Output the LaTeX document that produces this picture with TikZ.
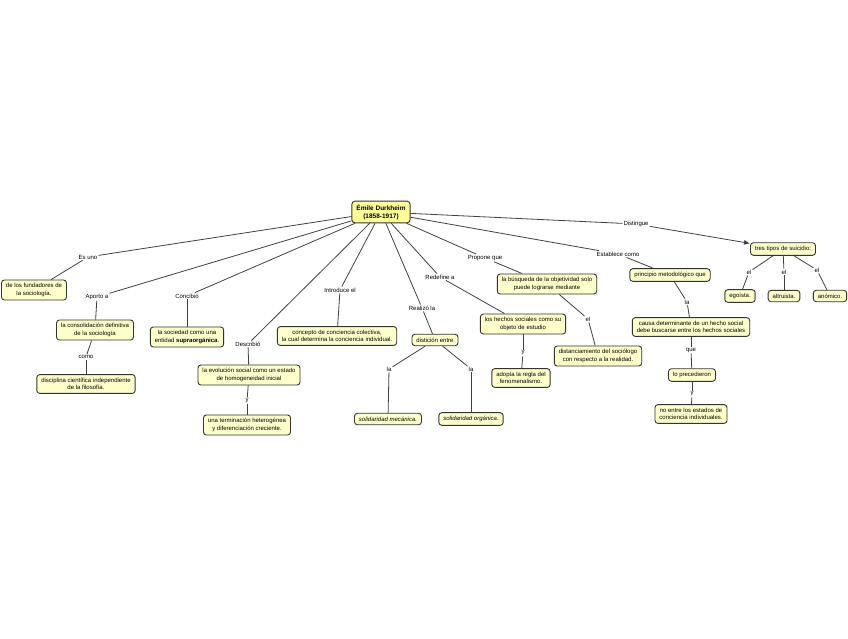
\documentclass[tikz,border=0pt]{standalone}
\usepackage{fontspec}
\setmainfont{Liberation Sans}
\usetikzlibrary{arrows.meta}
\definecolor{cptfill}{HTML}{FFFFCC}
\definecolor{rootfill}{HTML}{FFFF99}
\tikzset{
  cpt/.style  = {rectangle, rounded corners=3pt, draw=black!80, line width=0.9pt, fill=cptfill,
                 align=center, font=\fontsize{6}{7.4}\selectfont, inner xsep=4.5pt, inner ysep=3.5pt},
  cptr/.style = {cpt, fill=rootfill, font=\fontsize{6.5}{7.6}\selectfont\bfseries},
  lnk/.style  = {inner sep=1pt, font=\fontsize{6}{7.4}\selectfont},
  fl/.style   = {black!75, line width=0.8pt},
  fla/.style  = {fl, -{Latex[length=6pt,width=5pt]}},
}
\begin{document}
\begin{tikzpicture}[x=1pt,y=-1pt]
  \useasboundingbox (0,0) rectangle (848,638);
  \node[cptr] (dur) at (381,212) {Émile Durkheim\\(1858-1917)};

  \node[lnk] (esuno) at (88,257) {Es uno};
  \node[cpt] (fund) at (34,290) {de los fundadores de\\la sociología.};
  \node[lnk] (aporto) at (97,297) {Aporto a};
  \node[cpt] (consol) at (95,330) {la consolidación definitiva\\de la sociología};
  \node[lnk] (como) at (86,357) {como};
  \node[cpt] (disc) at (86,384) {disciplina científica independiente\\de la filosofía.};

  \node[lnk] (concibio) at (187,296) {Concibió};
  \node[cpt] (soc) at (187,337) {la sociedad como una\\entidad \textbf{supraorgánica}.};
  \node[lnk] (describio) at (248,344) {Describió};
  \node[cpt] (evol) at (249,375) {la evolución social como un estado\\de homogeneidad inicial};
  \node[lnk] (y1) at (247,401) {y};
  \node[cpt] (term) at (247,425) {una terminación heterogénea\\y diferenciación creciente.};

  \node[lnk] (introduce) at (340,290) {Introduce el};
  \node[cpt] (conc) at (337,336) {concepto de conciencia colectiva,\\la cual determina la conciencia individual.};
  \node[lnk] (realizo) at (422,308) {Realizó la};
  \node[cpt] (dist) at (435,340) {distición entre};
  \node[lnk] (la1) at (389,369) {la};
  \node[lnk] (la2) at (471,369) {la};
  \node[cpt] (mec) at (388,419) {\textit{solidaridad mecánica.}};
  \node[cpt] (org) at (471,419) {\textit{solidaridad orgánica.}};

  \node[lnk] (redefine) at (440,277) {Redefine a};
  \node[cpt] (hechos) at (523,324) {los hechos sociales como su\\objeto de estudio};
  \node[lnk] (y2) at (523,353) {y};
  \node[cpt] (regla) at (521,378) {adopta la regla del\\fenomenalismo.};
  \node[lnk] (propone) at (485,258) {Propone que};
  \node[cpt] (busq) at (547,284) {la búsqueda de la objetividad solo\\puede lograrse mediante};
  \node[lnk] (el1) at (588,319) {el};
  \node[cpt] (distan) at (598,356) {distanciamiento del sociólogo\\con respecto a la realidad.};

  \node[lnk] (establece) at (618,254) {Establece como};
  \node[cpt] (princ) at (670,275) {principio metodológico que};
  \node[lnk] (la3) at (687,302) {la};
  \node[cpt] (causa) at (691,327) {causa determinante de un hecho social\\debe buscarse entre los hechos sociales};
  \node[lnk] (que) at (691,350) {que};
  \node[cpt] (prec) at (692,375) {lo precedieron};
  \node[lnk] (y3) at (692,394) {y};
  \node[cpt] (estados) at (691,414) {no entre los estados de\\conciencia individuales.};

  \node[lnk] (distingue) at (636,224) {Distingue};
  \node[cpt] (tipos) at (783,249) {tres tipos de suicidio:};
  \node[lnk] (el2) at (749,272) {el};
  \node[lnk] (el3) at (784,272) {el};
  \node[lnk] (el4) at (817,270) {el};
  \node[cpt] (ego) at (740,296) {egoísta.};
  \node[cpt] (altr) at (784,296) {altruista.};
  \node[cpt] (anom) at (830,296) {anómico.};

  \draw[fl] (dur) -- (esuno);
  \draw[fl] (esuno) -- (fund);
  \draw[fl] (dur) -- (aporto);
  \draw[fl] (aporto) -- (consol);
  \draw[fl] (consol) -- (como);
  \draw[fl] (como) -- (disc);
  \draw[fl] (dur) -- (concibio);
  \draw[fl] (concibio) -- (soc);
  \draw[fl] (dur) -- (describio);
  \draw[fl] (describio) -- (evol);
  \draw[fl] (evol) -- (y1);
  \draw[fl] (y1) -- (term);
  \draw[fl] (dur) -- (introduce);
  \draw[fl] (introduce) -- (conc);
  \draw[fl] (dur) -- (realizo);
  \draw[fl] (realizo) -- (dist);
  \draw[fl] (dist) -- (la1);
  \draw[fl] (la1) -- (mec);
  \draw[fl] (dist) -- (la2);
  \draw[fl] (la2) -- (org);
  \draw[fl] (dur) -- (redefine);
  \draw[fl] (redefine) -- (hechos);
  \draw[fl] (hechos) -- (y2);
  \draw[fl] (y2) -- (regla);
  \draw[fl] (dur) -- (propone);
  \draw[fl] (propone) -- (busq);
  \draw[fl] (busq) -- (el1);
  \draw[fl] (el1) -- (distan);
  \draw[fl] (dur) -- (establece);
  \draw[fl] (establece) -- (princ);
  \draw[fl] (princ) -- (la3);
  \draw[fl] (la3) -- (causa);
  \draw[fl] (causa) -- (que);
  \draw[fl] (que) -- (prec);
  \draw[fl] (prec) -- (y3);
  \draw[fl] (y3) -- (estados);
  \draw[fl] (dur) -- (distingue);
  \draw[fla] (distingue) -- (tipos);
  \draw[fl] (tipos) -- (el2);
  \draw[fl] (el2) -- (ego);
  \draw[fl] (tipos) -- (el3);
  \draw[fl] (el3) -- (altr);
  \draw[fl] (tipos) -- (el4);
  \draw[fl] (el4) -- (anom);
\end{tikzpicture}
\end{document}
